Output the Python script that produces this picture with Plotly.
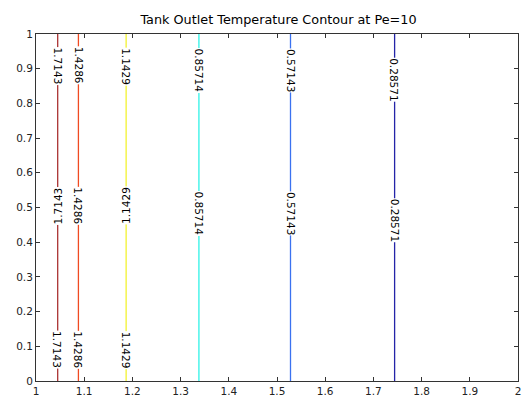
import plotly.graph_objects as go

# Contour levels of the outlet temperature and where each iso-line sits on the x axis
levels = [1.7143, 1.4286, 1.1429, 0.85714, 0.57143, 0.28571]
level_x = [1.045, 1.088, 1.187, 1.338, 1.528, 1.744]
level_colors = ["#aa3333", "#f04a22", "#f2f230", "#2ef2e6", "#3a72f0", "#2424a8"]

# Inline label placements (y positions) and text rotation for each level
label_y = [
    [0.907, 0.505, 0.09],
    [0.91, 0.505, 0.09],
    [0.907, 0.505, 0.09],
    [0.895, 0.483],
    [0.895, 0.483],
    [0.868, 0.463],
]
label_angle = [
    [90, -90, 90],
    [90, 90, 90],
    [90, -90, 90],
    [90, 90],
    [90, 90],
    [90, 90],
]

FONT = "DejaVu Sans, Liberation Sans, sans-serif"

fig = go.Figure()
for lv, xv, col in zip(levels, level_x, level_colors):
    fig.add_trace(go.Scatter(
        x=[xv, xv], y=[0, 1], mode="lines",
        line=dict(color=col, width=1.3),
        hoverinfo="skip", showlegend=False,
    ))

annotations = []
for lv, xv, ys, angs in zip(levels, level_x, label_y, label_angle):
    txt = f"{lv:.5g}"
    for yv, ang in zip(ys, angs):
        annotations.append(dict(
            x=xv, y=yv, xref="x", yref="y", text=txt, showarrow=False,
            textangle=ang, font=dict(family=FONT, size=10.5, color="black"),
            bgcolor="white", borderpad=0,
        ))

tick_font = dict(family=FONT, size=10.5, color="#222")

fig.update_layout(
    width=524, height=400,
    margin=dict(l=36, r=3, t=34, b=16),
    paper_bgcolor="white", plot_bgcolor="white",
    title=dict(text="Tank Outlet Temperature Contour at Pe=10",
               x=278.5 / 524, xanchor="center",
               y=1 - 20 / 400, yanchor="middle",
               font=dict(family=FONT, size=12.8, color="black")),
    annotations=annotations,
    xaxis=dict(range=[1, 2], tickmode="array",
               tickvals=[1 + 0.1 * i for i in range(11)],
               ticktext=["1", "1.1", "1.2", "1.3", "1.4", "1.5", "1.6", "1.7", "1.8", "1.9", "2"],
               ticks="inside", ticklen=4, tickcolor="#333", showline=True,
               linecolor="#333", linewidth=1, mirror="ticks", showgrid=False,
               zeroline=False, tickfont=tick_font),
    yaxis=dict(range=[0, 1], tickmode="array",
               tickvals=[0.1 * i for i in range(11)],
               ticktext=["0", "0.1", "0.2", "0.3", "0.4", "0.5", "0.6", "0.7", "0.8", "0.9", "1"],
               ticks="inside", ticklen=4, tickcolor="#333", showline=True,
               linecolor="#333", linewidth=1, mirror="ticks", showgrid=False,
               zeroline=False, tickfont=tick_font),
)

fig.write_html("out.html")
